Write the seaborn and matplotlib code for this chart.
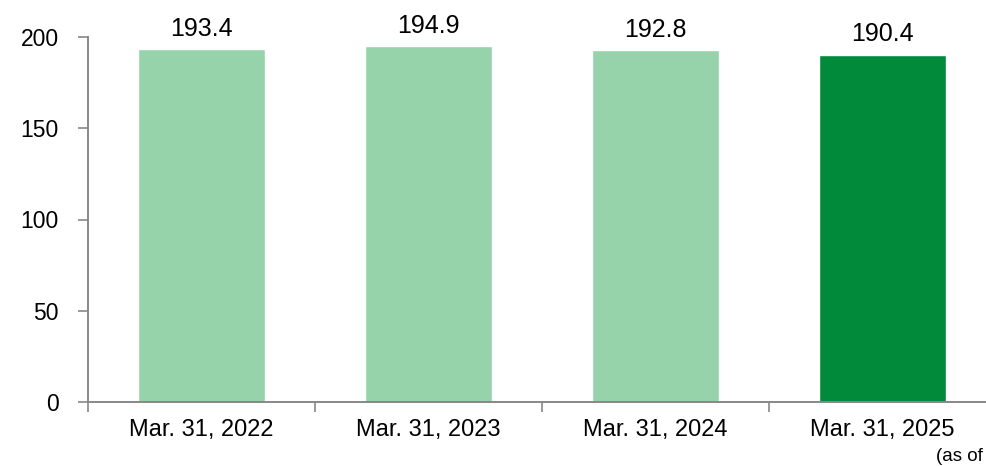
import numpy as np
import pandas as pd
import matplotlib
matplotlib.use("Agg")
import matplotlib.pyplot as plt
import seaborn as sns

dates = ["Mar. 31, 2022", "Mar. 31, 2023", "Mar. 31, 2024", "Mar. 31, 2025"]
values = [193.4, 194.9, 192.8, 190.4]
bar_colors = ["#96d3aa", "#96d3aa", "#96d3aa", "#008a3a"]
note = "(as of"

sns.set_style("white")
plt.rcParams["font.family"] = ["Liberation Sans", "DejaVu Sans"]
plt.rcParams["text.color"] = "black"
plt.rcParams["xtick.color"] = "black"
plt.rcParams["ytick.color"] = "black"

df = pd.DataFrame({"date": dates, "value": values})

fig = plt.figure(figsize=(9.86, 4.66), dpi=100)
ax = fig.add_axes([88 / 986, 64 / 466, 908 / 986, 365 / 466])

sns.barplot(
    data=df,
    x="date",
    y="value",
    hue="date",
    palette=bar_colors,
    width=0.56,
    legend=False,
    saturation=1,
    ax=ax,
)

ax.set_ylim(0, 200)
ax.set_xlim(-0.5, len(dates) - 0.5)
ax.set_yticks([0, 50, 100, 150, 200])
ax.set_xlabel("")
ax.set_ylabel("")

for i, v in enumerate(values):
    ax.annotate(
        f"{v:.1f}",
        (i, v),
        xytext=(0, 6),
        textcoords="offset points",
        ha="center",
        va="bottom",
        fontsize=18,
        color="black",
        annotation_clip=False,
    )

# boundaries between categories get the tick marks, labels stay centred
ax.set_xticks(np.arange(len(dates) + 1) - 0.5, minor=True)
ax.tick_params(axis="x", which="major", bottom=True, length=0, labelsize=17,
               labelcolor="black", pad=12)
ax.tick_params(axis="x", which="minor", bottom=True, direction="out", length=7,
               width=1.2, color="#888888")
ax.tick_params(axis="y", left=True, direction="out", length=7, width=1.2,
               color="#888888", labelsize=16.5, labelcolor="black", pad=14)

for side in ["top", "right"]:
    ax.spines[side].set_visible(False)
for side in ["left", "bottom"]:
    ax.spines[side].set_color("#888888")
    ax.spines[side].set_linewidth(1.4)

fig.text(936 / 986, 1 / 466, note, fontsize=13.5, ha="left", va="bottom", color="black")

fig.savefig("out.png", dpi=100)
